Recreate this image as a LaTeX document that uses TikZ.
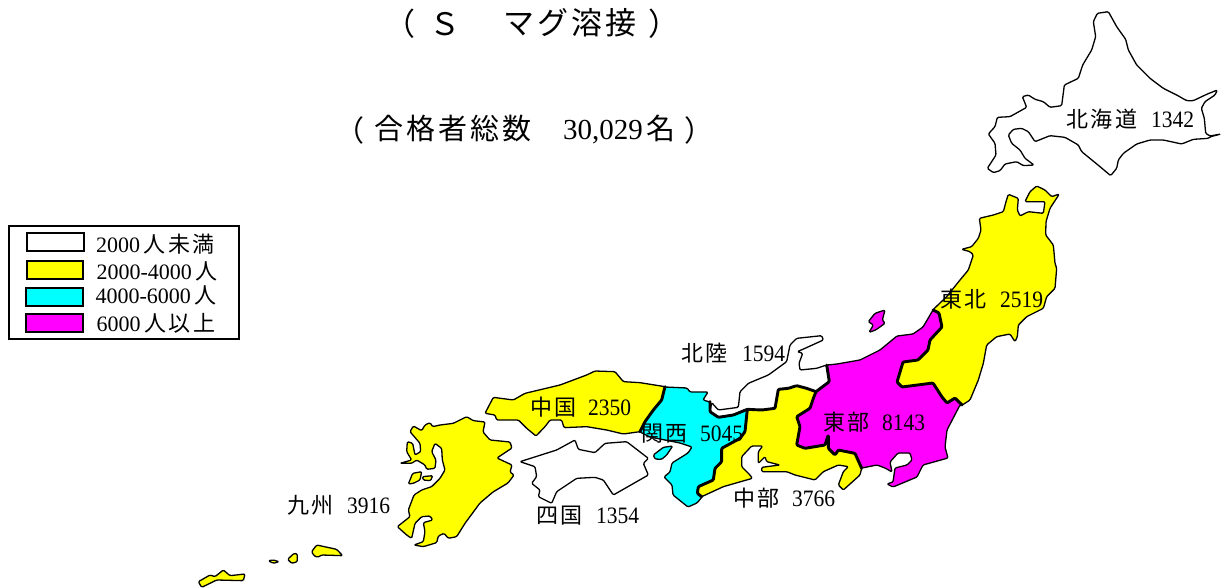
\documentclass[tikz,border=0pt]{standalone}
\usepackage{fontspec}
\setmainfont{Liberation Serif}
\newfontfamily\numf[FakeStretch=0.915]{Liberation Serif}
\newfontfamily\jpa[LetterSpace=10]{Noto Sans CJK JP}
\newfontfamily\jpb[LetterSpace=11]{Noto Sans CJK JP}
\newfontfamily\jpc[LetterSpace=12]{Noto Sans CJK JP}
\definecolor{myyel}{RGB}{255,255,0}
\definecolor{mycya}{RGB}{0,255,255}
\definecolor{mymag}{RGB}{255,0,255}
\tikzset{
  coast/.style={draw=black,line width=1.3pt,line join=round,rounded corners=1.2pt},
  border/.style={draw=black,line width=2.9pt,line join=round,line cap=round,rounded corners=1pt},
  lab/.style={anchor=base west,inner sep=0pt,outer sep=0pt,font=\fontsize{23.5}{24}\numf},
  leg/.style={anchor=base west,inner sep=0pt,outer sep=0pt,font=\fontsize{22}{24}\selectfont},
  swatch/.style={draw=black,line width=2pt},
  zone/.style={shift={(690,330)},scale=1/3},
  ztwo/.style={shift={(880,180)},scale=1/3},
  zfour/.style={shift={(480,360)},scale=1/3},
  zfive/.style={shift={(190,410)},scale=1/3},
}
\newcommand\jl[1]{{\fontsize{22}{24}\jpc #1}}
\begin{document}
\begin{tikzpicture}[x=1pt,y=-1pt]
\path[use as bounding box,fill=white] (0,0) rectangle (1228,588);

% Hokkaido
\begin{scope}[shift={(960,0)},scale=1/3]
\draw[coast,fill=white] (445,35)--(470,80)--(497,118)--(505,150)--(530,195)--(570,235)--(610,265)--(650,285)--(680,302)--(700,302)--(740,283)--(772,270)--(765,285)--(735,305)--(724,325)--(733,355)--(737,400)--(750,408)--(783,402)--(752,410)--(745,415)--(700,418)--(665,432)--(610,420)--(570,420)--(530,432)--(490,460)--(475,480)--(470,505)--(452,527)--(420,500)--(365,455)--(355,435)--(315,412)--(270,407)--(225,425)--(205,395)--(185,385)--(160,388)--(145,405)--(155,430)--(180,450)--(195,475)--(222,495)--(190,497)--(170,485)--(135,492)--(120,512)--(100,518)--(82,505)--(108,465)--(105,430)--(85,402)--(105,380)--(112,352)--(150,350)--(200,322)--(187,290)--(205,285)--(225,298)--(250,305)--(270,322)--(305,317)--(313,255)--(355,235)--(368,195)--(395,150)--(407,110)--(400,65)--(412,40)--cycle;
\end{scope}

% Tohoku
\begin{scope}[ztwo]
\draw[coast,fill=myyel] (158,390)--(200,350)--(240,300)--(265,270)--(280,225)--(270,215)--(245,208)--(275,200)--(295,175)--(303,150)--(298,115)--(340,105)--(370,95)--(378,65)--(385,43)--(415,55)--(412,90)--(420,108)--(445,95)--(490,100)--(495,65)--(435,65)--(450,35)--(470,18)--(495,30)--(515,50)--(538,42)--(510,85)--(498,125)--(497,165)--(520,195)--(525,250)--(530,265)--(525,325)--(500,350)--(490,385)--(440,410)--(415,435)--(412,470)--(405,485)--(390,462)--(350,470)--(320,495)--(310,550)--(295,600)--(270,660)--(247,675)--(225,655)--(200,668)--(185,650)--(160,610)--(65,620)--(52,605)--(70,545)--(115,540)--(145,510)--(150,480)--(185,440)--(178,400)--cycle;
\end{scope}

% Tobu and Sado
\draw[coast,fill=mymag] (933,310)--(923,327)--(913,334)--(897,336)--(880,350)--(860,360)--(837,364)--(827,365)--(829,382)--(816,392)--(813,398)--(810,408)--(797,417)--(800,427)--(797,445)--(805,448)--(825,445)--(828,435)--(828,448)--(835,455)--(838,450)--(855,453)--(862,468)--(877,465)--(885,468)--(892,472)--(890,462)--(898,453)--(910,453)--(912,460)--(907,465)--(895,468)--(893,482)--(887,484)--(893,487)--(917,477)--(923,465)--(948,458)--(945,447)--(947,430)--(960,405)--(962,405)--(955,398)--(947,403)--(942,397)--(933,383)--(902,387)--(897,382)--(903,362)--(918,360)--(928,350)--(930,340)--(942,327)--(939,313)--cycle;
\begin{scope}[shift={(855,300)},scale=1/3]
\draw[coast,fill=mymag] (40,65)--(60,40)--(90,30)--(82,60)--(90,70)--(62,90)--(42,97)--(55,75)--cycle;
\end{scope}

% Hokuriku and Chubu
\begin{scope}[zone]
\draw[coast,fill=white] (410,105)--(418,155)--(378,185)--(350,175)--(320,167)--(295,175)--(265,178)--(255,235)--(215,240)--(172,238)--(130,255)--(85,262)--(60,245)--(65,218)--(85,240)--(145,232)--(150,185)--(175,160)--(235,135)--(290,95)--(300,45)--(320,25)--(395,17)--(400,30)--(345,55)--(322,65)--(338,70)--(327,100)--(330,120)--(380,115)--cycle;
\draw[coast,fill=myyel] (172,238)--(165,305)--(150,325)--(95,355)--(95,395)--(75,415)--(70,450)--(25,470)--(22,490)--(35,500)--(100,470)--(187,445)--(180,435)--(155,410)--(155,380)--(185,348)--(218,348)--(205,365)--(205,400)--(225,380)--(230,395)--(270,405)--(215,412)--(215,425)--(290,425)--(315,435)--(375,450)--(400,425)--(445,405)--(475,410)--(460,425)--(445,465)--(460,480)--(510,435)--(515,415)--(495,370)--(445,360)--(435,375)--(415,355)--(415,315)--(405,345)--(345,355)--(320,345)--(330,290)--(320,260)--(360,235)--(370,205)--(378,185)--(350,175)--(320,167)--(295,175)--(265,178)--(255,235)--(215,240)--cycle;
\end{scope}

% Kansai
\draw[coast,fill=mycya] (665,387)--(687,388)--(690,392)--(708,392)--(703,400)--(710,402)--(710,412)--(718,417)--(733,415)--(747,409)--(745,432)--(740,438)--(722,448)--(722,462)--(715,468)--(713,480)--(698,487)--(697,493)--(702,497)--(697,503)--(688,507)--(673,495)--(672,485)--(664,477)--(670,472)--(672,463)--(688,453)--(692,447)--(680,443)--(650,437)--(640,432)--(645,422)--(653,410)--(662,400)--cycle;

% Chugoku, Shikoku, Awaji
\begin{scope}[zfour]
\draw[coast,fill=myyel] (555,80)--(480,68)--(430,65)--(405,35)--(345,33)--(320,45)--(240,75)--(135,100)--(100,120)--(40,112)--(15,160)--(45,165)--(50,180)--(115,180)--(140,205)--(168,228)--(195,200)--(210,180)--(245,180)--(252,203)--(320,200)--(380,210)--(430,222)--(480,215)--(495,185)--(520,150)--(545,120)--cycle;
\draw[coast,fill=white] (120,305)--(230,270)--(285,240)--(295,268)--(345,278)--(375,250)--(440,245)--(505,295)--(490,310)--(505,345)--(400,405)--(370,360)--(345,352)--(290,355)--(230,395)--(215,430)--(175,410)--(180,390)--(155,370)--(170,350)--(165,320)--cycle;
\draw[coast,fill=mycya] (520,285)--(550,262)--(578,258)--(560,285)--(545,298)--(525,297)--cycle;
\end{scope}

% Kyushu and islands
\begin{scope}[zfive]
\draw[coast,fill=myyel] (885,36)--(850,32)--(830,20)--(790,40)--(750,45)--(728,50)--(720,38)--(705,45)--(695,62)--(670,48)--(660,65)--(690,100)--(692,125)--(675,135)--(668,100)--(652,95)--(650,125)--(665,150)--(630,160)--(665,160)--(680,150)--(705,165)--(710,178)--(735,175)--(738,150)--(725,125)--(735,100)--(755,115)--(757,150)--(765,180)--(750,205)--(725,230)--(695,240)--(672,255)--(655,300)--(660,320)--(622,350)--(650,375)--(665,385)--(675,340)--(695,320)--(720,318)--(728,330)--(700,338)--(705,365)--(700,395)--(672,405)--(700,410)--(740,398)--(745,378)--(762,370)--(775,385)--(800,380)--(825,340)--(870,279)--(909,246)--(954,219)--(972,195)--(960,186)--(966,165)--(921,144)--(966,114)--(960,96)--(900,90)--(879,66)--cycle;
\draw[coast,fill=myyel] (655,222)--(668,190)--(695,185)--(690,210)--(670,220)--cycle;
\draw[coast,fill=myyel] (697,200)--(728,197)--(722,212)--(700,210)--cycle;
\draw[coast,fill=myyel] (235,452)--(250,450)--(267,455)--(250,460)--cycle;
\draw[coast,fill=myyel] (293,448)--(312,430)--(322,432)--(322,455)--(305,460)--cycle;
\draw[coast,fill=myyel] (365,425)--(380,405)--(440,418)--(458,437)--(395,435)--(383,442)--(372,437)--cycle;
\draw[coast,fill=myyel] (25,515)--(60,495)--(75,500)--(100,480)--(120,497)--(165,492)--(160,512)--(80,510)--(70,515)--(35,532)--cycle;
\end{scope}

% Region borders
\draw[border] (962,405)--(955,398)--(947,403)--(942,397)--(933,383)--(902,387)--(897,382)--(903,362)--(918,360)--(928,350)--(930,340)--(942,327)--(939,313)--(933,310);
\begin{scope}[zone]
\draw[border] (410,105)--(418,155)--(378,185)--(370,205)--(360,235)--(320,260)--(330,290)--(320,345)--(345,355)--(405,345)--(415,315)--(415,355)--(435,375)--(445,360)--(495,370)--(515,415);
\draw[border] (378,185)--(350,175)--(320,167)--(295,175)--(265,178)--(255,235)--(215,240)--(172,238)--(130,255)--(85,262)--(60,245)--(60,215);
\draw[border] (172,238)--(165,305)--(150,325)--(95,355)--(95,395)--(75,415)--(70,450)--(25,470)--(22,490)--(35,500);
\end{scope}
\begin{scope}[zfour]
\draw[border] (555,80)--(545,120)--(520,150)--(495,185)--(480,215);
\end{scope}

% Titles
\node[anchor=center,inner sep=0pt,font=\fontsize{31}{32}\selectfont\jpa] (t1) at (400,24) {（};
\node[anchor=center,inner sep=0pt,font=\fontsize{31}{32}\selectfont\jpa] (t2) at (445,24) {Ｓ};
\node[anchor=base west,inner sep=0pt,font=\fontsize{31}{32}\selectfont\jpa] (t3) at (503,35) {マグ溶接};
\node[anchor=center,inner sep=0pt,font=\fontsize{31}{32}\selectfont\jpa] (t4) at (664,24) {）};
\node[anchor=center,inner sep=0pt,font=\fontsize{29}{32}\selectfont\jpb] (s1) at (350,130) {（};
\node[anchor=base west,inner sep=0pt,font=\fontsize{29}{32}\selectfont\jpb] (s2) at (374,139.5) {合格者総数};
\node[anchor=base west,inner sep=0pt,font=\fontsize{29}{32}\selectfont] (s3) at (563,139.5) {30,029};
\node[anchor=base west,inner sep=0pt,font=\fontsize{29}{32}\selectfont\jpb] (s4) at (646,139.5) {名};
\node[anchor=center,inner sep=0pt,font=\fontsize{29}{32}\selectfont\jpb] (s5) at (699,130) {）};

% Region labels
\node[lab] (a1) at (1066,127.5) {\jl{北海道}};
\node[lab] (a2) at (1151,127.5) {1342};
\node[lab] (b1) at (940,307) {\jl{東北}};
\node[lab] (b2) at (1000,307) {2519};
\node[lab] (c1) at (681,361) {\jl{北陸}};
\node[lab] (c2) at (742,361) {1594};
\node[lab] (d1) at (530,415) {\jl{中国}};
\node[lab] (d2) at (588,415) {2350};
\node[lab] (e1) at (641,441) {\jl{関西}};
\node[lab] (e2) at (700,441) {5045};
\node[lab] (f1) at (823,430) {\jl{東部}};
\node[lab] (f2) at (882,430) {8143};
\node[lab] (g1) at (733,506) {\jl{中部}};
\node[lab] (g2) at (792,506) {3766};
\node[lab] (h1) at (536,523) {\jl{四国}};
\node[lab] (h2) at (596,523) {1354};
\node[lab] (i1) at (287,513) {\jl{九州}};
\node[lab] (i2) at (347,513) {3916};

% Legend
\draw[black,line width=2pt] (8.7,226) rectangle (239,339);
\draw[swatch,fill=white] (26.7,233) rectangle (84,251);
\draw[swatch,fill=myyel] (26.7,261) rectangle (83.3,279);
\draw[swatch,fill=mycya] (26,287.7) rectangle (82.7,305.7);
\draw[swatch,fill=mymag] (25.7,314) rectangle (82.7,332);
\node[leg] (l1) at (96,252) {2000\,\jl{人未満}};
\node[leg] (l2) at (96.5,279) {2000-4000\,\jl{人}};
\node[leg] (l3) at (95.5,303) {4000-6000\,\jl{人}};
\node[leg] (l4) at (96.5,331) {6000\,\jl{人以上}};
\end{tikzpicture}
\end{document}
